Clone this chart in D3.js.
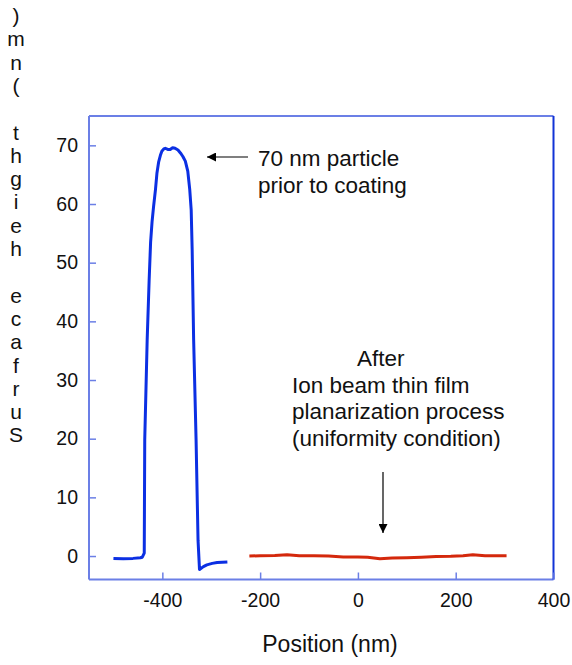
<!DOCTYPE html>
<html>
<head>
<meta charset="utf-8">
<script src="https://cdn.jsdelivr.net/npm/d3@7"></script>
<style>
  html, body { margin: 0; padding: 0; background: #fff; }
  text { font-family: "Liberation Sans", Arial, Helvetica, sans-serif; fill: #111; }
</style>
</head>
<body>
<svg id="chart" width="572" height="665"></svg>
<script>
// Profile before coating (nm position, nm height)
const beforeX = [-500, -480, -460, -445, -441, -437, -436, -431, -427, -424, -421, -418, -414, -411, -407.5, -404, -401, -397, -394, -389, -384, -379, -374, -368, -363, -358, -353, -348, -344, -341, -339, -336, -331, -327, -324, -316, -309, -298, -288, -267];
const beforeY = [-0.4, -0.45, -0.4, -0.3, -0.2, 0.5, 19.8, 36.9, 47, 53.5, 57, 59.5, 62.5, 65.3, 67.2, 68.3, 69.0, 69.4, 69.5, 69.3, 69.3, 69.6, 69.5, 69.2, 68.7, 68.1, 67.3, 65.6, 62.5, 59, 52.2, 36.9, 19.8, 2.7, -2.3, -1.8, -1.5, -1.25, -1.1, -1.0];
// Profile after ion beam planarization
const afterX = [-222, -200, -170, -145, -120, -90, -60, -30, 0, 20, 45, 70, 100, 130, 160, 190, 215, 235, 260, 290, 304];
const afterY = [0.0, 0.05, 0.1, 0.2, 0.05, 0.05, 0.0, -0.15, -0.15, -0.2, -0.45, -0.35, -0.3, -0.2, -0.1, -0.05, 0.05, 0.2, 0.05, 0.05, 0.05];

const xTicks = [-400, -200, 0, 200, 400];
const yTicks = [0, 10, 20, 30, 40, 50, 60, 70];
const yTitle = "Surface height (nm)";
const xTitle = "Position (nm)";
const noteTop = ["70 nm particle", "prior to coating"];
const noteBottom = ["After", "Ion beam thin film", "planarization process", "(uniformity condition)"];

const svg = d3.select("#chart");
const plotL = 89, plotR = 553.5, plotT = 116, plotB = 579.5;
const x = d3.scaleLinear().domain([-550, 400]).range([plotL, plotR]);
const y = d3.scaleLinear().domain([-4, 75]).range([plotB, plotT]);

const lightBlue = "#6b7fe6";
const darkBlue = "#1233d6";
const tickFont = 19.5;
const textFont = 22.5;

// frame
svg.append("line").attr("x1", plotL).attr("x2", plotR).attr("y1", plotT).attr("y2", plotT)
  .attr("stroke", lightBlue).attr("stroke-width", 2);
svg.append("line").attr("x1", plotL).attr("x2", plotR).attr("y1", plotB).attr("y2", plotB)
  .attr("stroke", lightBlue).attr("stroke-width", 2);
svg.append("line").attr("x1", plotL).attr("x2", plotL).attr("y1", plotT).attr("y2", plotB)
  .attr("stroke", lightBlue).attr("stroke-width", 2);
svg.append("line").attr("x1", plotR).attr("x2", plotR).attr("y1", plotT).attr("y2", plotB)
  .attr("stroke", darkBlue).attr("stroke-width", 2);

// axes with inward ticks; plain hyphen for negatives
const fmt = d => String(d);
const xAxis = d3.axisBottom(x).tickValues(xTicks).tickSize(-7).tickPadding(14).tickFormat(fmt);
const gx = svg.append("g").attr("transform", `translate(0,${plotB})`).call(xAxis);
gx.select(".domain").remove();
gx.selectAll(".tick line").attr("stroke", lightBlue).attr("stroke-width", 1.5);
gx.selectAll(".tick text").attr("font-size", tickFont).attr("fill", "#111")
  .attr("font-family", "Liberation Sans, Arial, sans-serif");

const yAxis = d3.axisLeft(y).tickValues(yTicks).tickSize(-7).tickPadding(11).tickFormat(fmt);
const gy = svg.append("g").attr("transform", `translate(${plotL},0)`).call(yAxis);
gy.select(".domain").remove();
gy.selectAll(".tick line").attr("stroke", lightBlue).attr("stroke-width", 1.5);
gy.selectAll(".tick text").attr("font-size", tickFont).attr("fill", "#111")
  .attr("font-family", "Liberation Sans, Arial, sans-serif");

// lines
const line = d3.line().x(d => x(d[0])).y(d => y(d[1]));
svg.append("path").datum(d3.zip(beforeX, beforeY)).attr("d", line)
  .attr("fill", "none").attr("stroke", "#0b2fe3").attr("stroke-width", 3).attr("stroke-linejoin", "round");
svg.append("path").datum(d3.zip(afterX, afterY)).attr("d", line)
  .attr("fill", "none").attr("stroke", "#d4280c").attr("stroke-width", 3).attr("stroke-linejoin", "round");

// y title: letters stacked, reading upward
const letters = yTitle.split("").reverse();
svg.append("g").selectAll("text").data(letters).join("text")
  .attr("x", 16).attr("y", (d, i) => 23 + i * 23.3)
  .attr("text-anchor", "middle").attr("font-size", 21).text(d => d);

// x title
svg.append("text").attr("x", 330).attr("y", 652).attr("text-anchor", "middle")
  .attr("font-size", 23).text(xTitle);

// annotations
const defs = svg.append("defs");
defs.append("marker").attr("id", "head").attr("viewBox", "0 0 10 10")
  .attr("refX", 10).attr("refY", 5).attr("markerWidth", 17).attr("markerHeight", 9)
  .attr("markerUnits", "userSpaceOnUse").attr("orient", "auto")
  .append("path").attr("d", "M0,0 L10,5 L0,10 Z").attr("fill", "#000");

svg.append("line").attr("x1", 248).attr("y1", 157).attr("x2", 207).attr("y2", 157)
  .attr("stroke", "#000").attr("stroke-width", 1.2).attr("marker-end", "url(#head)");
svg.append("g").selectAll("text").data(noteTop).join("text")
  .attr("x", 258).attr("y", (d, i) => 166 + i * 27).attr("font-size", textFont).text(d => d);

svg.append("line").attr("x1", 383).attr("y1", 472).attr("x2", 383).attr("y2", 533)
  .attr("stroke", "#000").attr("stroke-width", 1.2).attr("marker-end", "url(#head)");
svg.append("g").selectAll("text").data(noteBottom).join("text")
  .attr("x", (d, i) => i === 0 ? 357 : 292).attr("y", (d, i) => 366 + i * 26.5)
  .attr("font-size", textFont).text(d => d);
</script>
</body>
</html>
